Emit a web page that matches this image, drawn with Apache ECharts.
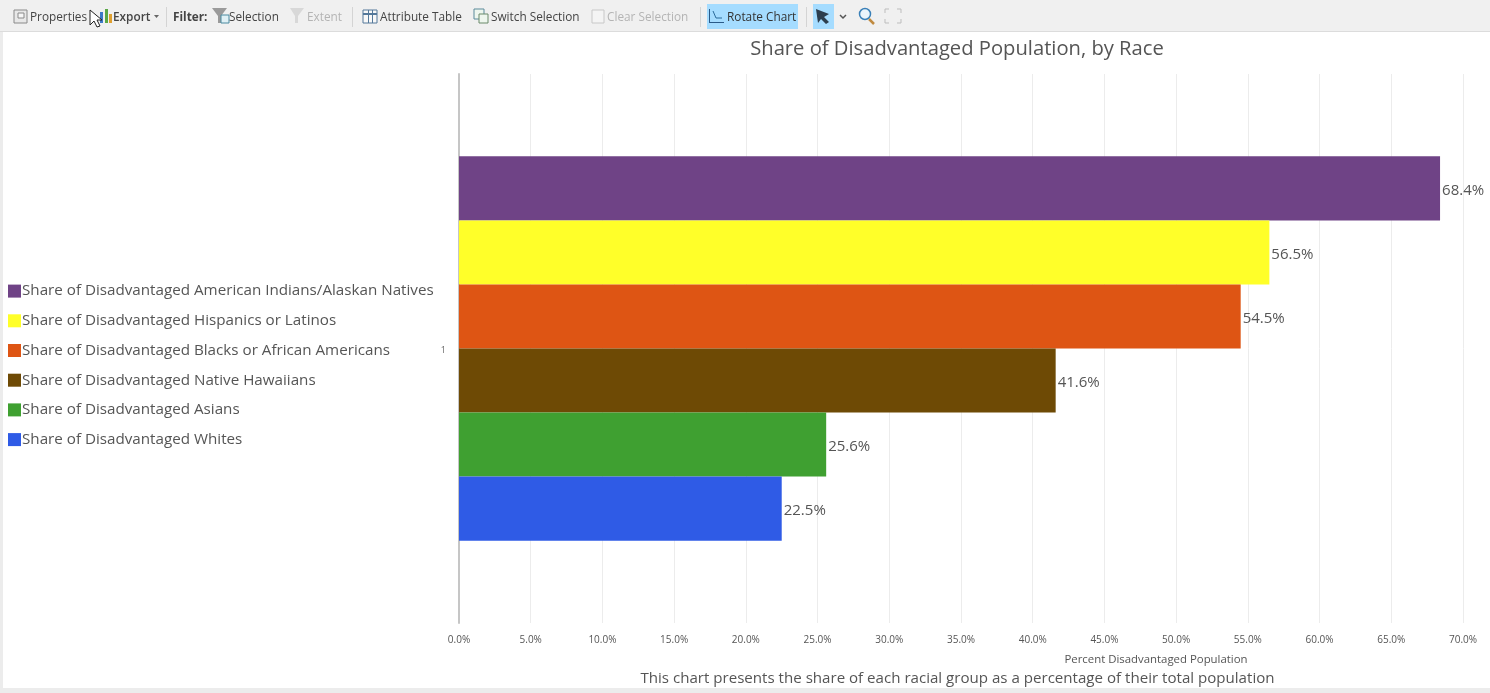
<!DOCTYPE html>
<html><head><meta charset="utf-8">
<style>html,body{margin:0;padding:0;background:#fff;overflow:hidden}#c{width:1490px;height:693px}</style>
<script src="https://cdn.jsdelivr.net/npm/echarts@6/dist/echarts.min.js"></script>
</head><body><div id="c"></div>
<script>
const categories = ['1'];
const seriesNames = [
  'Share of Disadvantaged American Indians/Alaskan Natives',
  'Share of Disadvantaged Hispanics or Latinos',
  'Share of Disadvantaged Blacks or African Americans',
  'Share of Disadvantaged Native Hawaiians',
  'Share of Disadvantaged Asians',
  'Share of Disadvantaged Whites'
];
const seriesValues = [68.4, 56.5, 54.5, 41.6, 25.6, 22.5];
const seriesColors = ['#6f4386', '#ffff29', '#de5514', '#6e4a05', '#3fa031', '#2f5be6'];
const toolbarItems = [
  ['Properties', 30, '#444', 400], ['Export', 113, '#444', 600], ['Filter:', 173, '#444', 700],
  ['Selection', 229, '#444', 400], ['Extent', 307, '#b4b4b4', 400], ['Attribute Table', 380, '#444', 400],
  ['Switch Selection', 491, '#444', 400], ['Clear Selection', 607, '#b4b4b4', 400], ['Rotate Chart', 727, '#333', 400]
];
const FONT = '"Open Sans","Noto Sans",sans-serif';
const chart = echarts.init(document.getElementById('c'), null, {renderer:'canvas'});
const rect = (x,y,w,h,fill,stroke,z) => ({type:'rect',silent:true,z:z||1,shape:{x,y,width:w,height:h},style:{fill:fill||'none',stroke:stroke||'none',lineWidth:1}});
const label = (t,x,y,size,color,weight,align) => ({type:'text',silent:true,z:5,x,y,style:{text:t,fill:color,font:(weight||400)+' '+size+'px '+FONT,textAlign:align||'left',textVerticalAlign:'middle'}});
const gfx = [
  rect(0,0,1490,31,'#f0f0f0'), rect(0,31,1490,1,'#dcdcdc'),
  rect(0,32,3,656,'#ececec'), rect(0,688,1490,5,'#ececec'),
  rect(707,4,91,25,'#a5dcff'), rect(813,4,21,25,'#a5dcff'),
  rect(166,7,1,20,'#d4d4d4'), rect(352,7,1,20,'#d4d4d4'), rect(700,7,1,20,'#d4d4d4'), rect(806,7,1,20,'#d4d4d4'),
  rect(14,10,13,13,'#e8e8e8','#8a8a8a'), rect(18,13,6,5,'#f6f6f6','#8a8a8a',2),
  rect(100,12,3,11,'#3c78c8'), rect(105,9,3,14,'#5aa846'), rect(109,14,3,9,'#e0a030'),
  {type:'polygon',silent:true,z:2,shape:{points:[[154,15],[159,15],[156.5,18]]},style:{fill:'#666'}},
  {type:'polygon',silent:true,z:2,shape:{points:[[212,8],[227,8],[221,16],[221,23],[218,23],[218,16]]},style:{fill:'#9a9a9a'}},
  rect(221,15,8,8,'#dff0f5','#4a8aa0',3),
  {type:'polygon',silent:true,z:2,shape:{points:[[290,8],[304,8],[298,16],[298,23],[295,23],[295,16]]},style:{fill:'#d8d8d8'}},
  rect(363,10,14,13,'#f8f8f8','#54789a'), rect(363,13,14,2,'#54789a',null,2), rect(368,10,1,13,'#54789a',null,2), rect(372,10,1,13,'#54789a',null,2),
  rect(474,9,10,10,'#eef6ee','#5a8a9a'), rect(479,14,9,9,'#eef6ee','#6a8a6a',2),
  rect(592,10,12,13,'#f4f4f4','#c8c8c8'),
  rect(709,9,1,14,'#2a5a88'), rect(709,22,15,1,'#2a5a88'),
  {type:'polyline',silent:true,z:2,shape:{points:[[713,11],[716,18],[722,18]]},style:{stroke:'#2a6a9a',fill:'none',lineWidth:1}},
  {type:'polygon',silent:true,z:3,shape:{points:[[816,9],[829,14],[824,17],[829,22],[826,24],[821,19],[818,23]]},style:{fill:'#2c3e4e'}},
  {type:'polyline',silent:true,z:2,shape:{points:[[840,15],[843,18],[846,15]]},style:{stroke:'#555',fill:'none',lineWidth:1.5}},
  {type:'circle',silent:true,z:2,shape:{cx:865,cy:14,r:5.5},style:{fill:'#eaf4fb',stroke:'#3a80b8',lineWidth:1.5}},
  {type:'line',silent:true,z:2,shape:{x1:869,y1:19,x2:874,y2:24},style:{stroke:'#c08a40',lineWidth:2.5}},
  {type:'polyline',silent:true,z:2,shape:{points:[[885,13],[885,9],[889,9]]},style:{stroke:'#bdbdbd',fill:'none'}},
  {type:'polyline',silent:true,z:2,shape:{points:[[897,9],[901,9],[901,13]]},style:{stroke:'#bdbdbd',fill:'none'}},
  {type:'polyline',silent:true,z:2,shape:{points:[[885,19],[885,23],[889,23]]},style:{stroke:'#bdbdbd',fill:'none'}},
  {type:'polyline',silent:true,z:2,shape:{points:[[897,23],[901,23],[901,19]]},style:{stroke:'#bdbdbd',fill:'none'}},
  {type:'polygon',silent:true,z:6,shape:{points:[[90,10],[90,25],[94,21],[97,27],[100,26],[97,20],[102,20]]},style:{fill:'#fff',stroke:'#222',lineWidth:1}},
  label('Percent Disadvantaged Population',1156,660,11.4,'#555',400,'center'),
  label('This chart presents the share of each racial group as a percentage of their total population',957.5,679,15.1,'#555',400,'center')
];
toolbarItems.forEach(i => gfx.push(label(i[0],i[1],18,11.8,i[2],i[3])));
chart.setOption({
  animation:false,
  backgroundColor:'#fff',
  title:{text:'Share of Disadvantaged Population, by Race',left:952,textAlign:'center',top:34,textStyle:{fontFamily:FONT,fontSize:20.2,fontWeight:400,color:'#555'}},
  legend:{orient:'vertical',left:8,top:283.6,itemWidth:13,itemHeight:13,itemGap:14.7,icon:'rect',padding:0,
    data:seriesNames,selectedMode:false,
    textStyle:{fontFamily:FONT,fontSize:15.2,color:'#555',padding:[0,0,0,-4]}},
  grid:{left:459,right:27,top:74,bottom:70,containLabel:false},
  xAxis:{type:'value',position:'bottom',min:0,max:70,interval:5,
    axisLine:{show:false},axisTick:{show:false},
    splitLine:{show:true,lineStyle:{color:'#ececec',width:1}},
    axisLabel:{formatter:v=>v.toFixed(1)+'%',fontFamily:FONT,fontSize:10,color:'#555',margin:12}},
  yAxis:{type:'category',inverse:true,data:categories,
    axisLine:{show:true,lineStyle:{color:'#c6c6c6',width:2}},axisTick:{show:false},
    axisLabel:{margin:13,formatter:v=>'{a|'+v+'}',rich:{a:{fontFamily:FONT,fontSize:9,color:'#666',padding:[4,0,0,0]}}}},
  series:seriesNames.map((n,i)=>({
    name:n,type:'bar',data:[seriesValues[i]],barGap:0,barCategoryGap:'30%',
    itemStyle:{color:seriesColors[i]},
    label:{show:true,position:'right',distance:2,offset:[0,2],formatter:p=>p.value.toFixed(1)+'%',fontFamily:FONT,fontSize:15,color:'#555'}
  })),
  graphic:gfx
});
</script></body></html>
